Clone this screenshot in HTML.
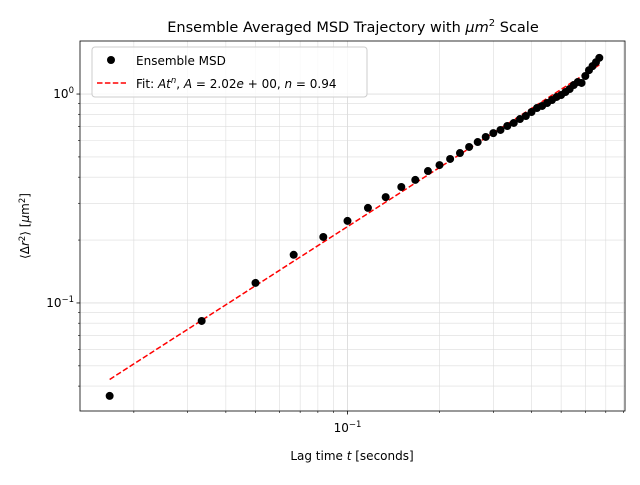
<!DOCTYPE html>
<html><head><meta charset="utf-8"><style>
body{margin:0;background:#fff;}
svg text{font-family:"DejaVu Sans","Liberation Sans",sans-serif;}
</style></head><body>
<svg id="c" width="640" height="480" xmlns="http://www.w3.org/2000/svg"></svg>
<script>
const lagIndex = [1,2,3,4,5,6,7,8,9,10,11,12,13,14,15,16,17,18,19,20,21,22,23,24,25,26,27,28,29,30,31,32,33,34,35,36,37,38,39,40];
const msdValues = [0.0359,0.082,0.1247,0.170,0.207,0.247,0.285,0.321,0.359,0.388,0.428,0.457,0.489,0.522,0.558,0.589,0.623,0.650,0.673,0.703,0.727,0.759,0.785,0.820,0.857,0.877,0.906,0.936,0.968,0.989,1.022,1.057,1.104,1.141,1.13,1.22,1.30,1.36,1.42,1.49];
const fitA = [2.02];
const fitN = [0.94];
const frameRate = 60;

const NS="http://www.w3.org/2000/svg", svg=document.getElementById('c');
const L=80,R=625,T=41,B=411;
const xmin=Math.log10(0.01333), xmax=Math.log10(0.809);
const ymin=Math.log10(0.0304), ymax=Math.log10(1.794);
const X=t=>L+(Math.log10(t)-xmin)/(xmax-xmin)*(R-L);
const Y=v=>B-(Math.log10(v)-ymin)/(ymax-ymin)*(B-T);
function el(tag,attrs,parent){const e=document.createElementNS(NS,tag);for(const k in attrs)e.setAttribute(k,attrs[k]);(parent||svg).appendChild(e);return e;}

const grid=el('g',{});


for(let d=-2;d<=0;d++)for(let m=1;m<=9;m++){const t=m*Math.pow(10,d);const x=X(t);if(x<L||x>R)continue;
 el('line',{x1:x,x2:x,y1:T,y2:B,stroke:'#dcdcdc','stroke-width':m==1?0.9:0.6},grid);
 el('line',{x1:x,x2:x,y1:B,y2:B+(m==1?3.5:2),stroke:'#000','stroke-width':m==1?0.8:0.6});}
for(let d=-2;d<=0;d++)for(let m=1;m<=9;m++){const v=m*Math.pow(10,d);const y=Y(v);if(y<T||y>B)continue;
 el('line',{x1:L,x2:R,y1:y,y2:y,stroke:'#dcdcdc','stroke-width':m==1?0.9:0.6},grid);
 el('line',{x1:L-(m==1?3.5:2),x2:L,y1:y,y2:y,stroke:'#000','stroke-width':m==1?0.8:0.6});}

// fit line
const t0=lagIndex[0]/frameRate,t1=lagIndex[lagIndex.length-1]/frameRate;
const fit=el('line',{x1:X(t0),y1:Y(fitA[0]*Math.pow(t0,fitN[0])),x2:X(t1),y2:Y(fitA[0]*Math.pow(t1,fitN[0])),stroke:'#ff0000','stroke-width':1.5,'stroke-dasharray':'5.5,2.4'});


lagIndex.forEach((k,i)=>{const c=el('circle',{cx:X(k/frameRate),cy:Y(msdValues[i]),r:4,fill:'#000'});
 
 });

el('rect',{x:L,y:T,width:R-L,height:B-T,fill:'none',stroke:'#000','stroke-width':0.8});

let tx=el('text',{x:X(0.1),y:432,'font-size':12,'text-anchor':'middle'});tx.innerHTML='10<tspan dy="-5" font-size="8.5">−1</tspan>';

let ty=el('text',{x:74,y:Y(1)+4,'font-size':12,'text-anchor':'end'});ty.innerHTML='10<tspan dy="-5" font-size="8.5">0</tspan>';

ty=el('text',{x:74,y:Y(0.1)+4,'font-size':12,'text-anchor':'end'});ty.innerHTML='10<tspan dy="-5" font-size="8.5">−1</tspan>';


let xt=el('text',{x:352,y:460,'font-size':12,'text-anchor':'middle'});xt.innerHTML='Lag time <tspan font-style="italic">t</tspan> [seconds]';

let yt=el('text',{x:0,y:0,'font-size':12,'text-anchor':'middle',transform:'translate(29,226) rotate(-90)'});yt.innerHTML='⟨Δ<tspan font-style="italic">r</tspan><tspan dy="-4" font-size="8.5">2</tspan><tspan dy="4">⟩ [</tspan><tspan font-style="italic">μ</tspan>m<tspan dy="-4" font-size="8.5">2</tspan><tspan dy="4">]</tspan>';

let ti=el('text',{x:353,y:32,'font-size':14.5,'text-anchor':'middle'});ti.innerHTML='Ensemble Averaged MSD Trajectory with <tspan font-style="italic">μm</tspan><tspan dy="-6" font-size="10">2</tspan><tspan dy="6"> Scale</tspan>';


const lg=el('g',{});


el('rect',{x:92,y:47,width:275,height:50,rx:3,fill:'#fff','fill-opacity':0.8,stroke:'#ccc'},lg);
el('circle',{cx:111,cy:60,r:4,fill:'#000'},lg);
let l1=el('text',{x:136,y:65,'font-size':12},lg);l1.textContent='Ensemble MSD';

el('line',{x1:97,x2:126,y1:83,y2:83,stroke:'#f00','stroke-width':1.5,'stroke-dasharray':'5.5,2.4'},lg);
let l2=el('text',{x:136,y:88,'font-size':12},lg);
l2.innerHTML='Fit: <tspan font-style="italic">At</tspan><tspan dy="-5" font-size="8.5" font-style="italic">n</tspan><tspan dy="5">, </tspan><tspan font-style="italic">A</tspan> = 2.02<tspan font-style="italic">e</tspan> + 00, <tspan font-style="italic">n</tspan> = 0.94';

</script>
</body></html>
